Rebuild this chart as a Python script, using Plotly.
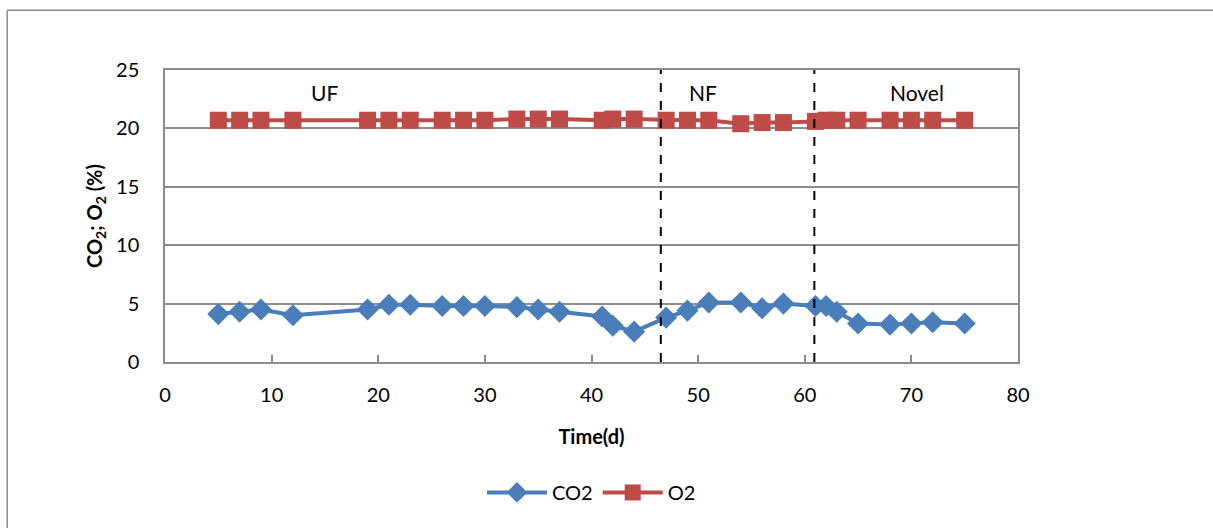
import plotly.graph_objects as go

# Sampling days and measured gas concentrations (%)
days = [5, 7, 9, 12, 19, 21, 23, 26, 28, 30, 33, 35, 37, 41, 42, 44,
        47, 49, 51, 54, 56, 58, 61, 62, 63, 65, 68, 70, 72, 75]
co2 = [4.1, 4.3, 4.5, 4.0, 4.5, 4.9, 4.9, 4.8, 4.8, 4.8, 4.7, 4.5, 4.3, 3.9, 3.1, 2.6,
       3.8, 4.4, 5.1, 5.1, 4.6, 5.0, 4.8, 4.8, 4.3, 3.3, 3.2, 3.3, 3.4, 3.3]
o2 = [20.7, 20.7, 20.7, 20.7, 20.7, 20.7, 20.7, 20.7, 20.7, 20.7, 20.8, 20.8, 20.8, 20.7, 20.8, 20.8,
      20.7, 20.7, 20.7, 20.4, 20.5, 20.5, 20.6, 20.7, 20.7, 20.7, 20.7, 20.7, 20.7, 20.7]

# Phase boundaries and labels
phase_bounds = [46.5, 60.9]
phase_labels = ["UF", "NF", "Novel"]
phase_label_x = [15, 50.5, 70.5]

FONT = "Lato, 'Open Sans', sans-serif"
BLUE = "#4A7EBB"
RED = "#BE4B48"
GRID = "#8c8c8c"

fig = go.Figure()
fig.add_trace(go.Scatter(
    x=days, y=co2, name="CO2", mode="lines+markers",
    line=dict(color=BLUE, width=4),
    marker=dict(symbol="diamond", size=17, color=BLUE),
))
fig.add_trace(go.Scatter(
    x=days, y=o2, name="O2", mode="lines+markers",
    line=dict(color=RED, width=4),
    marker=dict(symbol="square", size=17, color=RED),
))

for xb in phase_bounds:
    fig.add_shape(type="line", x0=xb, x1=xb, y0=0, y1=25, xref="x", yref="y",
                  line=dict(color="black", width=2, dash="dash"))

for lab, lx in zip(phase_labels, phase_label_x):
    fig.add_annotation(x=lx, y=23.1, text=lab, showarrow=False,
                       font=dict(size=21, color="black", family=FONT))

# Chart frame (top and left edges)
fig.add_shape(type="line", xref="paper", yref="paper", x0=-0.185, x1=1.3, y0=1.205, y1=1.205,
              line=dict(color=GRID, width=1.5))
fig.add_shape(type="line", xref="paper", yref="paper", x0=-0.185, x1=-0.185, y0=-0.7, y1=1.205,
              line=dict(color=GRID, width=1.5))

fig.update_layout(
    width=1213, height=528,
    margin=dict(l=165, r=195, t=70, b=166),
    paper_bgcolor="white", plot_bgcolor="white",
    font=dict(family=FONT, size=20, color="black"),
    showlegend=True,
    legend=dict(orientation="h", x=0.5, xanchor="center", y=-0.38, yanchor="top",
                font=dict(size=20, family=FONT), itemwidth=60),
    xaxis=dict(range=[0, 80], tick0=0, dtick=10, showgrid=False,
               showline=True, linecolor=GRID, linewidth=1.5, mirror=True,
               ticks="inside", ticklen=7, tickcolor=GRID, tickwidth=1.5,
               tickfont=dict(size=20), zeroline=False, ticklabelstandoff=14,
               title=dict(text="<b>Time(d)</b>", font=dict(size=20), standoff=25)),
    yaxis=dict(range=[0, 25], tick0=0, dtick=5, showgrid=True, gridcolor=GRID, gridwidth=1.5,
               showline=True, linecolor=GRID, linewidth=1.5, mirror=True,
               ticks="", tickfont=dict(size=20), zeroline=False, ticklabelstandoff=20,
               title=dict(text="<b>CO<sub>2</sub>; O<sub>2</sub> (%)</b>", font=dict(size=20), standoff=8)),
)

fig.write_html("out.html")
